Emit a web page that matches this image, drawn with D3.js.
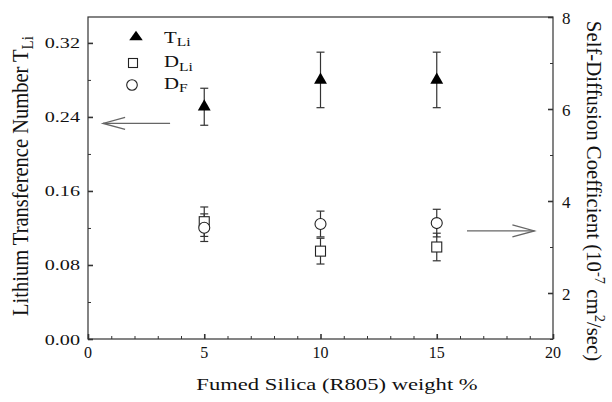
<!DOCTYPE html>
<html>
<head>
<meta charset="utf-8">
<script src="https://cdn.jsdelivr.net/npm/d3@7"></script>
<style>
  body { margin: 0; background: #fff; }
  svg text { font-family: 'Liberation Serif', 'DejaVu Serif', serif; fill: #111; }
</style>
</head>
<body>
<svg id="chart" width="612" height="402" font-family="Liberation Serif, DejaVu Serif, serif"></svg>
<script>
// values
const silica = [5, 10, 15];              // fumed silica weight %
const tLi = [0.251, 0.28, 0.28];         // transference number (left axis)
const tLiErr = [0.02, 0.03, 0.03];
const dLi = [3.55, 2.91, 3.0];           // 1e-7 cm2/s (right axis)
const dLiErr = [0.32, 0.28, 0.3];
const dF = [3.42, 3.5, 3.52];
const dFErr = [0.3, 0.28, 0.3];
const leftTicks = [0, 0.08, 0.16, 0.24, 0.32];
const rightTicks = [2, 4, 6, 8];
const xTicks = [0, 5, 10, 15, 20];

const svg = d3.select("#chart");
const M = { top: 17, right: 59, bottom: 63, left: 88 };
const W = 612, H = 402;
const innerW = W - M.left - M.right, innerH = H - M.top - M.bottom;
const g = svg.append("g").attr("transform", `translate(${M.left},${M.top})`);

const x = d3.scaleLinear().domain([0, 20]).range([0, innerW]);
const yL = d3.scaleLinear().domain([0, 0.348]).range([innerH, 0]);
const yR = d3.scaleLinear().domain([1, 8]).range([innerH, 0]);

const axisColor = "#333";
const SX = 1.3; // the scanned figure's text is wider than plain Times

// frame
g.append("rect").attr("width", innerW).attr("height", innerH)
  .attr("fill", "none").attr("stroke", axisColor).attr("stroke-width", 1.2);

// x axis
const xAx = g.append("g").attr("transform", `translate(0,${innerH})`)
  .call(d3.axisBottom(x).tickValues(d3.range(0, 21, 1)).tickSize(-3).tickFormat(""));
xAx.call(a => a.select(".domain").remove());
xAx.selectAll(".tick line").attr("stroke", axisColor)
  .attr("y2", d => d % 5 === 0 ? -5 : -3).attr("stroke-width", d => d % 5 === 0 ? 1.6 : 1);
g.append("g").selectAll("text").data(xTicks).join("text")
  .attr("x", d => x(d)).attr("y", innerH + 19).attr("text-anchor", "middle")
  .attr("font-size", 16).text(d => d);

// left axis
const lAx = g.append("g")
  .call(d3.axisLeft(yL).tickValues(d3.range(0, 0.33, 0.04)).tickSize(-3).tickFormat(""));
lAx.call(a => a.select(".domain").remove());
lAx.selectAll(".tick line").attr("stroke", axisColor)
  .attr("x2", (d, i) => i % 2 === 0 ? 5 : 3).attr("stroke-width", (d, i) => i % 2 === 0 ? 1.6 : 1);
g.append("g").selectAll("text").data(leftTicks).join("text")
  .attr("transform", d => `translate(-8,${yL(d) + 5.5}) scale(${SX},1)`)
  .attr("text-anchor", "end")
  .attr("font-size", 15.5).text(d => d.toFixed(2));

// right axis
const rAx = g.append("g").attr("transform", `translate(${innerW},0)`)
  .call(d3.axisRight(yR).tickValues(d3.range(1, 9, 1)).tickSize(-3).tickFormat(""));
rAx.call(a => a.select(".domain").remove());
rAx.selectAll(".tick line").attr("stroke", axisColor)
  .attr("x2", d => d % 2 === 0 ? -5 : -3).attr("stroke-width", d => d % 2 === 0 ? 1.6 : 1);
g.append("g").selectAll("text").data(rightTicks).join("text")
  .attr("x", innerW + 9).attr("y", d => yR(d) + 6.5)
  .attr("font-size", 17).text(d => d);

// axis titles
svg.append("text").attr("transform", `translate(337,390) scale(1.33,1)`)
  .attr("text-anchor", "middle")
  .attr("font-size", 17).text("Fumed Silica (R805) weight %");

const lt = svg.append("text").attr("transform", "translate(28,176) rotate(-90) scale(1,1.15)")
  .attr("text-anchor", "middle").attr("font-size", 20.5);
lt.append("tspan").text("Lithium Transference Number T");
lt.append("tspan").attr("dy", 4).attr("font-size", 15).text("Li");

const rt = svg.append("text").attr("transform", "translate(587,191) rotate(90)")
  .attr("text-anchor", "middle").attr("font-size", 20.8);
rt.append("tspan").text("Self-Diffusion Coefficient (10");
rt.append("tspan").attr("dy", -8).attr("font-size", 14.5).text("-7");
rt.append("tspan").attr("dy", 8).text(" cm");
rt.append("tspan").attr("dy", -8).attr("font-size", 14.5).text("2");
rt.append("tspan").attr("dy", 8).text("/sec)");

// error bars
function errorBars(xs, ys, es, scale) {
  const eg = g.append("g").attr("stroke", "#333").attr("stroke-width", 1.2);
  xs.forEach((v, i) => {
    const cx = x(v), y1 = scale(ys[i] + es[i]), y2 = scale(ys[i] - es[i]);
    eg.append("line").attr("x1", cx).attr("x2", cx).attr("y1", y1).attr("y2", y2);
    eg.append("line").attr("x1", cx - 4).attr("x2", cx + 4).attr("y1", y1).attr("y2", y1);
    eg.append("line").attr("x1", cx - 4).attr("x2", cx + 4).attr("y1", y2).attr("y2", y2);
  });
}
errorBars(silica, dF, dFErr, yR);
errorBars(silica, dLi, dLiErr, yR);
errorBars(silica, tLi, tLiErr, yL);

const tri = d3.symbol().type(d3.symbolTriangle).size(72);

g.append("g").selectAll("path").data(silica).join("path")
  .attr("transform", (d, i) => `translate(${x(d)},${yL(tLi[i])})`)
  .attr("d", tri).attr("fill", "#000");

g.append("g").selectAll("rect").data(silica).join("rect")
  .attr("x", d => x(d) - 5).attr("y", (d, i) => yR(dLi[i]) - 5)
  .attr("width", 10).attr("height", 10)
  .attr("fill", "#fff").attr("stroke", "#222").attr("stroke-width", 1.1);

g.append("g").selectAll("circle").data(silica).join("circle")
  .attr("cx", d => x(d)).attr("cy", (d, i) => yR(dF[i])).attr("r", 5.5)
  .attr("fill", "#fff").attr("stroke", "#222").attr("stroke-width", 1.1);

// legend
const lg = svg.append("g");
lg.append("path").attr("transform", "translate(136,37) scale(1.05,0.85)").attr("d", tri).attr("fill", "#000");
lg.append("rect").attr("x", 128.5).attr("y", 58.5).attr("width", 9).attr("height", 9)
  .attr("fill", "#fff").attr("stroke", "#222").attr("stroke-width", 1.1);
lg.append("circle").attr("cx", 132).attr("cy", 85).attr("r", 5.3)
  .attr("fill", "#fff").attr("stroke", "#222").attr("stroke-width", 1.1);
[["T", "Li", 42.5], ["D", "Li", 67], ["D", "F", 88.5]].forEach(([a, b, yy]) => {
  const t = lg.append("text").attr("transform", `translate(164,${yy}) scale(${SX},1)`)
    .attr("font-size", 16);
  t.append("tspan").text(a);
  t.append("tspan").attr("dy", 3.5).attr("font-size", 12).text(b);
});

// arrows pointing to the axes
const arrowColor = "#666";
function arrow(x1, x2, yv) {
  const dir = x2 > x1 ? -1 : 1;
  const ag = g.append("g").attr("stroke", arrowColor).attr("stroke-width", 1.3).attr("fill", "none");
  ag.append("line").attr("x1", x(x1)).attr("x2", x(x2)).attr("y1", yv).attr("y2", yv);
  ag.append("path").attr("d",
    `M${x(x2) + dir * 22},${yv - 6}L${x(x2)},${yv}L${x(x2) + dir * 22},${yv + 6}`);
}
arrow(3.53, 0.65, yL(0.233));
arrow(16.3, 19.2, yR(3.35));
</script>
</body>
</html>
